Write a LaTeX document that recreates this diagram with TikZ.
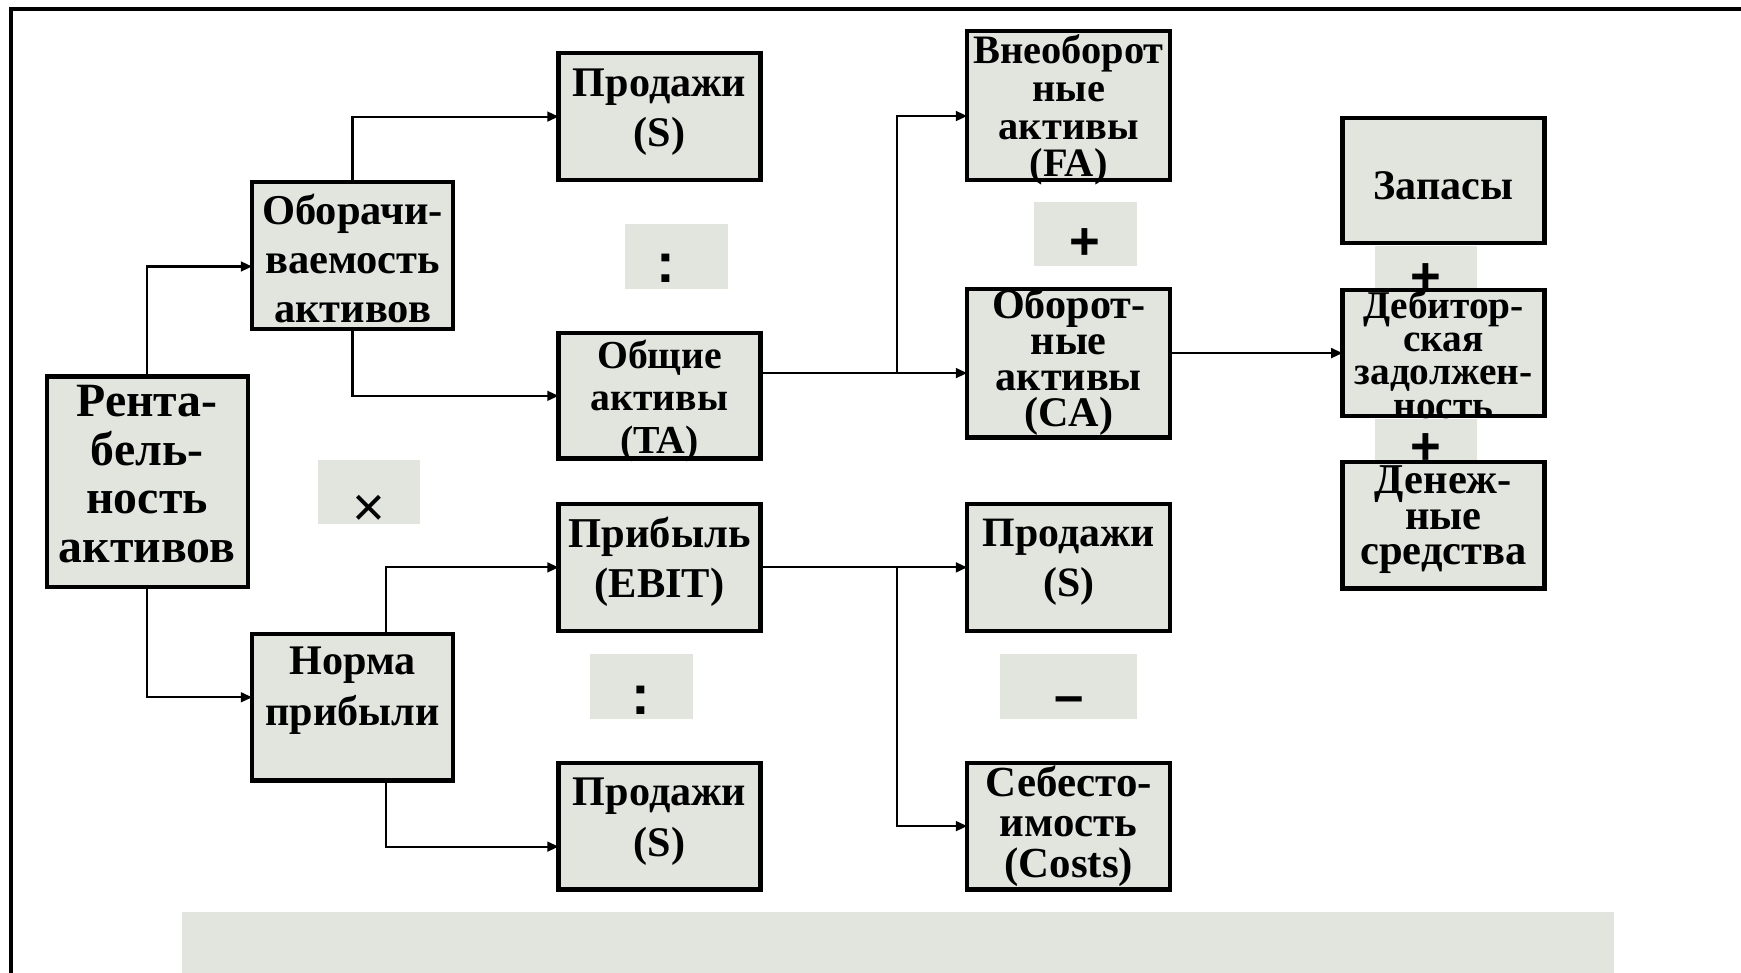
\documentclass[tikz,border=0pt]{standalone}
\usepackage{fontspec}
\setmainfont{Liberation Serif}
\newfontfamily\symfont{Liberation Sans}
\usetikzlibrary{arrows.meta,fit,calc}
\definecolor{boxgray}{RGB}{226,228,222}
\begin{document}
\begin{tikzpicture}[x=0.011103cm,y=-0.011103cm,
  box/.style={draw=black,line width=1.2pt,fill=boxgray,inner sep=0pt,outer sep=0pt},
  opbox/.style={fill=boxgray,inner sep=0pt,outer sep=0pt},
  txt/.style={align=center,inner sep=0pt,font=\bfseries\fontsize{12}{14.3}\selectfont},
  sym/.style={inner sep=0pt,font=\symfont\bfseries\fontsize{15}{15}\selectfont},
  conn/.style={line width=0.6pt,-{Triangle[length=3.2pt,width=2.8pt]}},
  frame/.style={line width=0.95pt}]
\useasboundingbox (0,0) rectangle (1568,876);
% frame
\coordinate (fbl) at (10,900);
\coordinate (ftl) at (10,8);
\coordinate (ftr) at (1600,8);
\draw[frame] (fbl) -- (ftl) -- (ftr);
% bottom band
\node[opbox,fit={(164,821.6) (1453.6,900)}] (band) {};
% operator boxes
\node[opbox,fit={(563,202) (655.5,260)}] (op1) {};
\node[opbox,fit={(931,182) (1024,240)}] (op2) {};
\node[opbox,fit={(286.4,414.7) (378,472)}] (op3) {};
\node[opbox,fit={(531.6,589) (623.8,647.3)}] (op4) {};
\node[opbox,fit={(900.7,589) (1024,647.3)}] (op5) {};
% boxes
\node[box,fit={(42,339) (223,529)}] (ra) {};
\node[box,fit={(227,164) (408,296)}] (ob) {};
\node[box,fit={(227,571) (408,703)}] (nm) {};
\node[box,fit={(503,48) (685,162)}] (s1) {};
\node[box,fit={(503,300) (685,413)}] (ta) {};
\node[box,fit={(503,454) (685,568)}] (eb) {};
\node[box,fit={(503,687) (685,801)}] (s2) {};
\node[box,fit={(871,28) (1054,162)}] (fa) {};
\node[box,fit={(871,260) (1054,394)}] (ca) {};
\node[box,fit={(871,454) (1054,568)}] (s3) {};
\node[box,fit={(871,687) (1054,801)}] (cs) {};
\node[box,fit={(1209,106) (1391,219)}] (zp) {};
\node[box,fit={(1209,261) (1391,375)}] (db) {};
% texts
\node[txt,font=\bfseries\fontsize{13.6}{13.9}\selectfont] (tra) at (132.5,427) {Рента-\\бель-\\ность\\активов};
\node[txt,font=\bfseries\fontsize{12.1}{14}\selectfont] (tob) at (317.5,233) {Оборачи-\\ваемость\\активов};
\node[txt] (tnm) at (317.5,622) {Норма\\прибыли};
\node[txt] (ts1) at (594,101) {Продажи\\(S)};
\node[txt,font=\bfseries\fontsize{11.3}{12.1}\selectfont] (tta) at (594,361) {Общие\\активы\\(TA)};
\node[txt,font=\bfseries\fontsize{12.1}{14.2}\selectfont] (teb) at (594,506) {Прибыль\\(EBIT)};
\node[txt] (ts2) at (594,740) {Продажи\\(S)};
\node[txt,font=\bfseries\fontsize{11.5}{10.8}\selectfont] (tfa) at (962.5,99) {Внеоборот\\ные\\активы\\(FA)};
\node[txt,font=\bfseries\fontsize{12}{10.2}\selectfont] (tca) at (962.5,326) {Оборот-\\ные\\активы\\(CA)};
\node[txt,font=\bfseries\fontsize{11.9}{14.2}\selectfont] (ts3) at (962.5,506) {Продажи\\(S)};
\node[txt,font=\bfseries\fontsize{12.2}{11.5}\selectfont] (tcs) at (962.5,744) {Себесто-\\имость\\(Costs)};
\node[txt] (tzp) at (1300,167) {Запасы};
\node[txt,font=\bfseries\fontsize{11.2}{9.5}\selectfont] (tdb) at (1300,319) {Дебитор-\\ская\\задолжен-\\ность};
% bands between right column boxes
\node[opbox,fit={(1238.4,221.5) (1330.4,259)}] (op6) {};
\node[opbox,fit={(1238.4,377) (1330.4,414)}] (op7) {};
\node[box,fit={(1209,416) (1391,530)}] (dn) {};
\node[txt,font=\bfseries\fontsize{12.1}{10.1}\selectfont] (tdn) at (1300,468) {Денеж-\\ные\\средства};
% operator symbols
\node[sym,font=\symfont\bfseries\fontsize{16}{16}\selectfont] (c1) at (600,242) {:};
\node[sym] (p1) at (977,220) {+};
\node[sym,font=\symfont\fontsize{16}{16}\selectfont] (x1) at (332,460.5) {×};
\node[sym,font=\symfont\bfseries\fontsize{16}{16}\selectfont] (c2) at (577,631) {:};
\node[sym] (m1) at (962.5,635) {–};
\node[sym] (p2) at (1284,251) {+};
\node[sym] (p3) at (1284,404) {+};
% connectors
\draw[conn] (ra.north) |- (ob.west |- 0,240);
\draw[conn] (ra.south) |- (nm.west |- 0,628);
\draw[conn] (ob.north) |- (s1.west);
\draw[conn] (ob.south) |- (ta.west);
\draw[conn] (nm.north -| 347.5,0) |- (eb.west);
\draw[conn] (nm.south -| 347.5,0) |- (s2.west |- 0,762.5);
\coordinate (j1) at (808,336);
\draw[conn] (ta.east |- j1) -- (ca.west |- j1);
\draw[conn] (j1) |- (fa.west |- 0,104.5);
\draw[conn] (ca.east |- db.west) -- (db.west);
\coordinate (j2) at (808,511);
\draw[conn] (eb.east) -- (s3.west);
\draw[conn] (j2) |- (cs.west);
\end{tikzpicture}
\end{document}
